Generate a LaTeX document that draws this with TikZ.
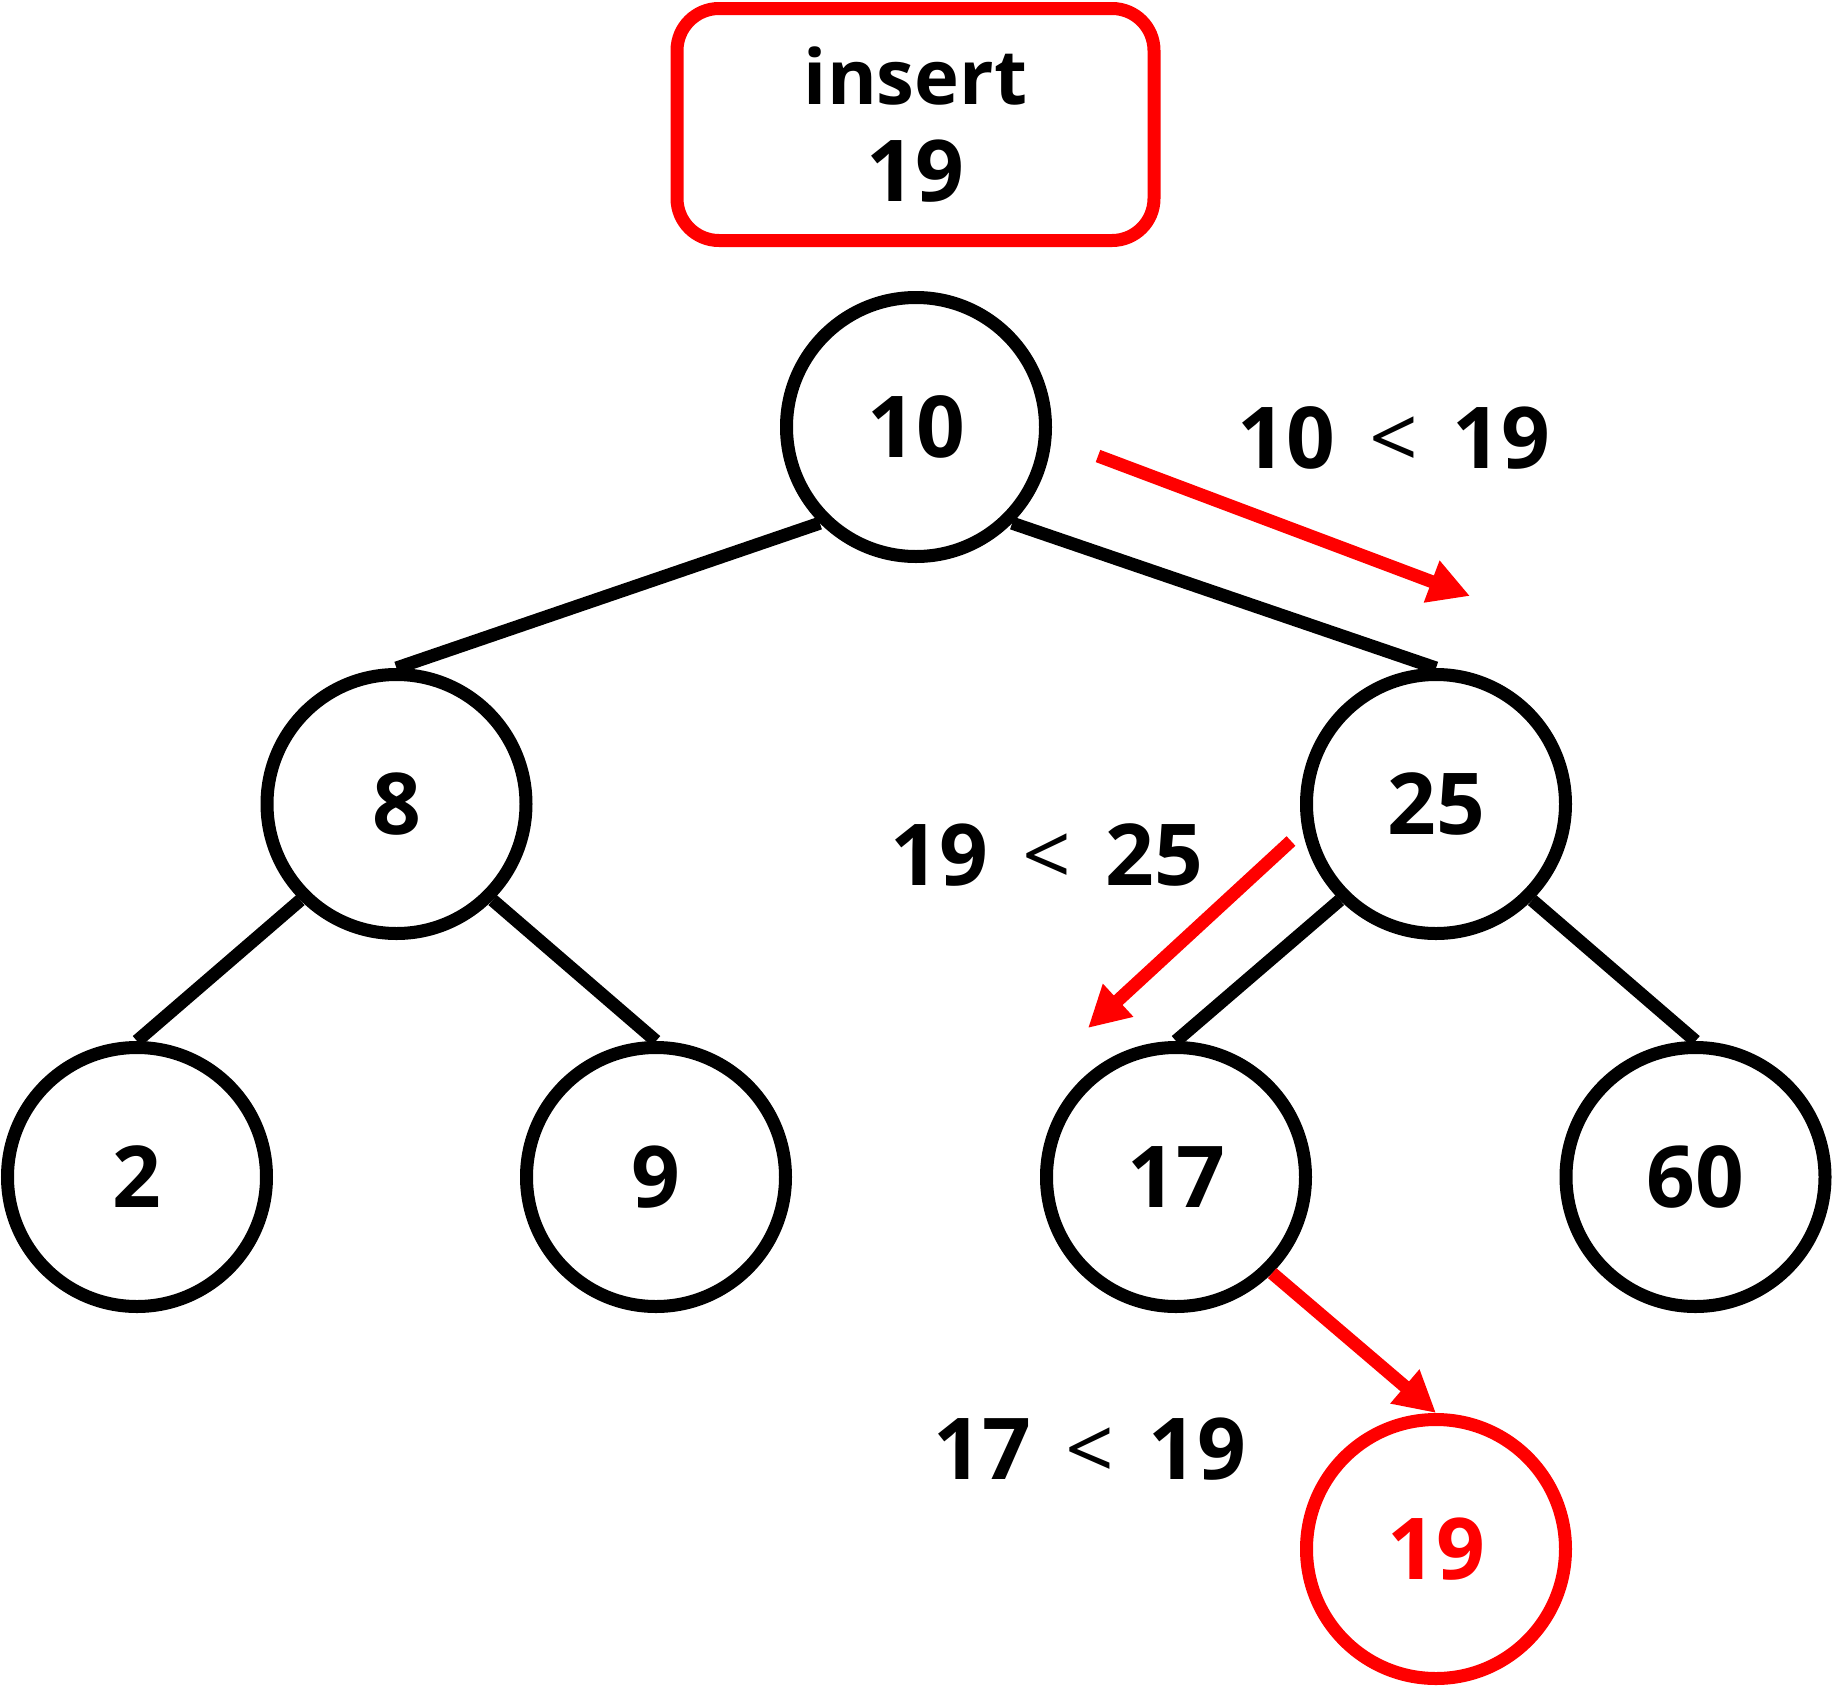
\documentclass[tikz,border=0pt]{standalone}
\usepackage{fontspec}
\setmainfont{Open Sans}
\usetikzlibrary{arrows.meta}
\begin{document}
\begin{tikzpicture}[x=0.5pt,y=-0.5pt,
  numfont/.style={font=\fontsize{42.7pt}{48.5pt}\selectfont\bfseries},
  treenode/.style={circle, draw=black, line width=6.5pt, minimum size=129.5pt, inner sep=0pt, numfont},
  newnode/.style={treenode, draw=red, text=red},
  treeline/.style={draw=black, line width=6.5pt},
  pathar/.style={draw=red, line width=6.5pt, -{Triangle[length=20.5pt,width=21pt]}},
  cmp/.style={numfont, anchor=base, inner sep=0pt},
  insbox/.style={rectangle, rounded corners=21pt, draw=red, line width=6.5pt,
    minimum width=238.5pt, minimum height=116pt, inner sep=0pt, align=center, numfont}
]
\useasboundingbox (0,0) rectangle (1833,1687);

\node[insbox] (ins) at (915.5,124.5) {\raisebox{-1.75pt}{\fontsize{38pt}{48.5pt}\selectfont insert}\\\raisebox{-1.75pt}{19}};

\node[treenode] (n10) at (916,427) {10};
\node[treenode] (n8) at (396.5,804) {8};
\node[treenode] (n25) at (1436,804) {25};
\node[treenode] (n2) at (137,1177) {2};
\node[treenode] (n9) at (656,1177) {9};
\node[treenode] (n17) at (1176,1177) {17};
\node[treenode] (n60) at (1695.5,1177) {60};
\node[newnode] (n19) at (1436,1549) {19};

\draw[treeline] (n10.south west) -- (n8.north);
\draw[treeline] (n10.south east) -- (n25.north);
\draw[treeline] (n8.south west) -- (n2.north);
\draw[treeline] (n8.south east) -- (n9.north);
\draw[treeline] (n25.south west) -- (n17.north);
\draw[treeline] (n25.south east) -- (n60.north);

\coordinate (a1s) at (1098,456);
\coordinate (a1e) at (1470,596);
\coordinate (a2s) at (1291,841);
\coordinate (a2e) at (1088,1028);

\draw[pathar] (a1s) -- (a1e);
\draw[pathar] (a2s) -- (a2e);
\draw[pathar] (n17.-45) -- (n19.north);

\node[cmp] (c1) at (1394,468) {10\hspace{0.4em}{\mdseries<}\hspace{0.4em}19};
\node[cmp] (c2) at (1047,885) {19\hspace{0.4em}{\mdseries<}\hspace{0.4em}25};
\node[cmp] (c3) at (1090,1479) {17\hspace{0.4em}{\mdseries<}\hspace{0.4em}19};
\end{tikzpicture}
\end{document}
